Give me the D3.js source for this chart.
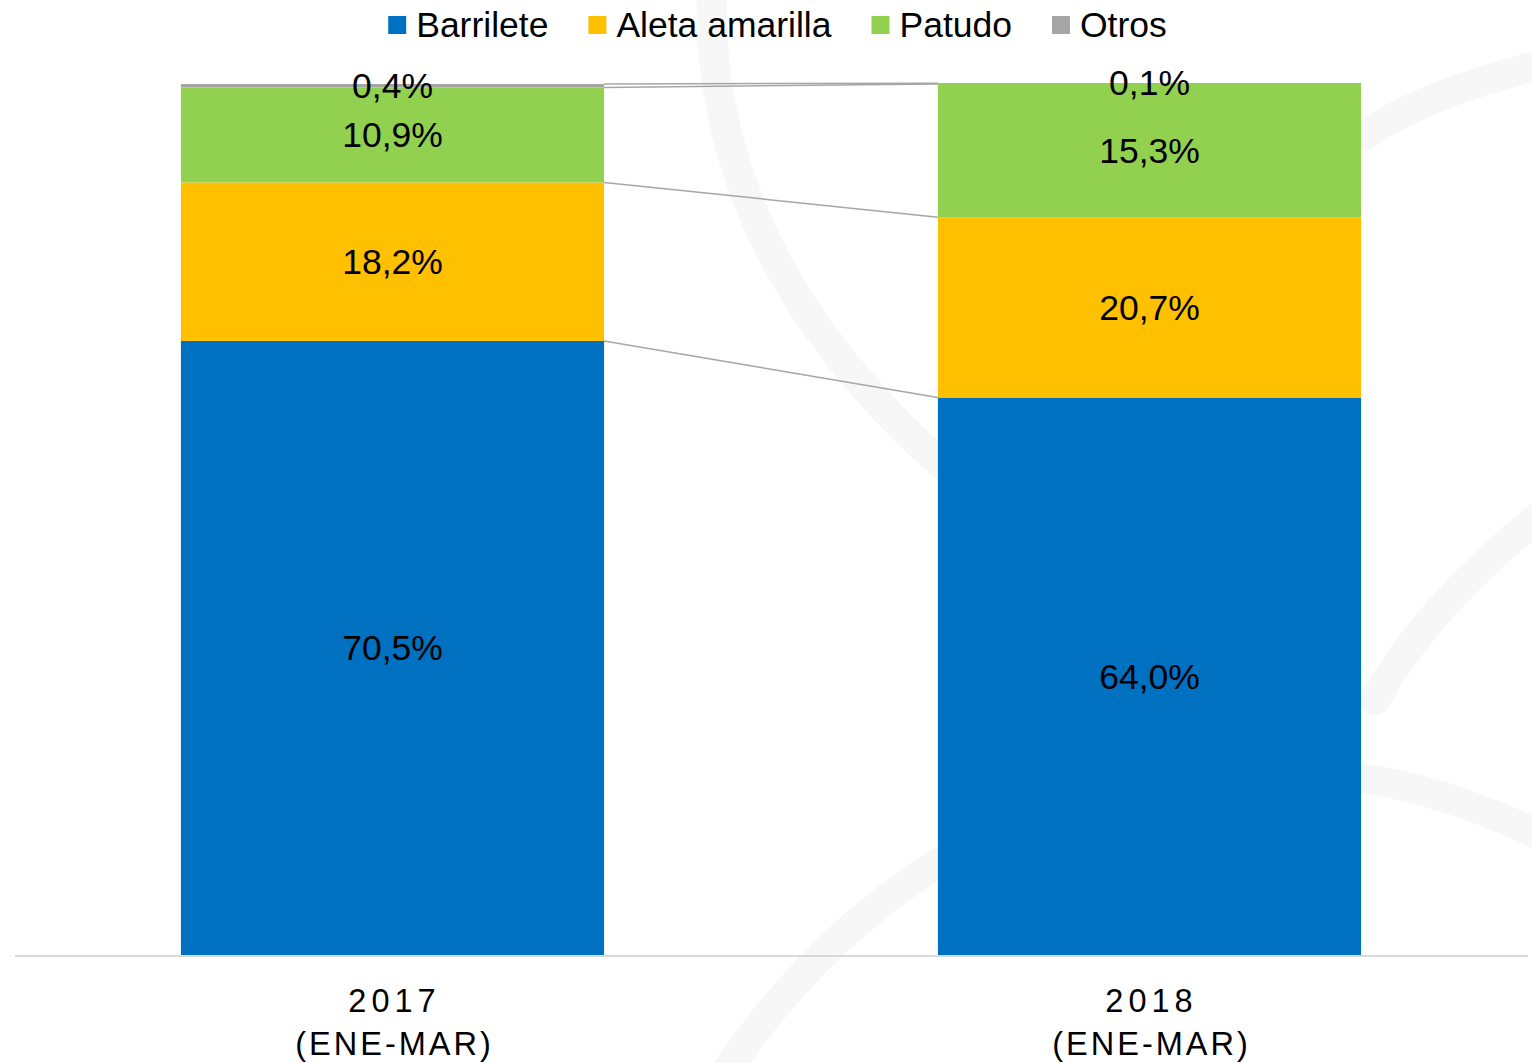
<!DOCTYPE html>
<html>
<head>
<meta charset="utf-8">
<script src="https://cdn.jsdelivr.net/npm/d3@7"></script>
<style>
  html, body { margin: 0; padding: 0; background: #fff; }
  svg { display: block; }
</style>
</head>
<body>
<svg id="chart" width="1532" height="1063"></svg>
<script>
// ---- data ----
const categories = ["2017", "2018"];
const categorySub = ["(ENE-MAR)", "(ENE-MAR)"];
const seriesNames = ["Barrilete", "Aleta amarilla", "Patudo", "Otros"];
const barrilete = [70.5, 64.0];
const aletaAmarilla = [18.2, 20.7];
const patudo = [10.9, 15.3];
const otros = [0.4, 0.1];
const seriesColors = ["#0070C0", "#FFC000", "#92D050", "#A5A5A5"];

const W = 1532, H = 1063;
const svg = d3.select("#chart");
const FONT = "'Liberation Sans', Arial, sans-serif";

// ---- watermark (faint background logo arcs) ----
const wm = svg.append("g").attr("fill", "none").attr("stroke", "#f7f7f7")
  .attr("stroke-width", 30).attr("stroke-linecap", "round");
wm.append("path").attr("d", "M 712 -20 Q 700 260 960 480");
wm.append("path").attr("d", "M 1365 135 Q 1430 90 1560 60");
wm.append("path").attr("d", "M 1375 700 Q 1430 600 1560 500");
wm.append("path").attr("d", "M 1360 778 Q 1450 790 1560 845");
wm.append("path").attr("d", "M 720 1080 Q 820 930 960 850");

// ---- table ----
const table = categories.map((c, i) => ({
  cat: c,
  "Barrilete": barrilete[i],
  "Aleta amarilla": aletaAmarilla[i],
  "Patudo": patudo[i],
  "Otros": otros[i]
}));
const stacked = d3.stack().keys(seriesNames)(table);

// ---- scales ----
const x = d3.scaleBand().domain(categories).range([14, 1528])
  .paddingInner(0.441).paddingOuter(0.2205);
const y = d3.scaleLinear().domain([0, 100]).range([955, 84]);
const color = d3.scaleOrdinal().domain(seriesNames).range(seriesColors);

// ---- connector (series) lines ----
const conn = svg.append("g").attr("stroke", "#A6A6A6").attr("stroke-width", 1.5).attr("fill", "none");
stacked.forEach(s => {
  conn.append("line")
    .attr("x1", x(categories[0]) + x.bandwidth())
    .attr("y1", y(s[0][1]))
    .attr("x2", x(categories[1]))
    .attr("y2", y(s[1][1]));
});

// ---- bars ----
const layers = svg.append("g").selectAll("g").data(stacked).join("g")
  .attr("fill", d => color(d.key));
layers.selectAll("rect").data(d => d).join("rect")
  .attr("x", d => x(d.data.cat))
  .attr("y", d => y(d[1]))
  .attr("width", x.bandwidth())
  .attr("height", d => y(d[0]) - y(d[1]));

// ---- data labels ----
const fmt = v => v.toFixed(1).replace(".", ",") + "%";
const labels = svg.append("g").attr("font-family", FONT).attr("font-size", 35.5)
  .attr("fill", "#000").attr("text-anchor", "middle");
stacked.forEach(s => {
  s.forEach(d => {
    const v = d[1] - d[0];
    let cy = (y(d[0]) + y(d[1])) / 2;
    if (s.key === "Otros") cy = y(d[0]) - 1.5;
    labels.append("text")
      .attr("x", x(d.data.cat) + x.bandwidth() / 2)
      .attr("y", cy)
      .attr("dy", "0.35em")
      .text(fmt(+v.toFixed(1)));
  });
});

// ---- x axis ----
const axis = svg.append("g").attr("transform", "translate(0,956)");
axis.call(d3.axisBottom(x).tickSize(0).tickFormat(() => ""));
axis.select(".domain").attr("stroke", "#D9D9D9").attr("stroke-width", 2)
  .attr("d", "M15,0H1528");
axis.selectAll(".tick").each(function(c, i) {
  const t = d3.select(this);
  t.select("text").remove();
  const tx = t.append("text").attr("font-family", FONT).attr("font-size", 32.5)
    .attr("fill", "#000").attr("text-anchor", "middle");
  tx.append("tspan").attr("x", 2).attr("y", 56).attr("letter-spacing", "5px").text(c);
  tx.append("tspan").attr("x", 2).attr("y", 99).attr("letter-spacing", "3px").text(categorySub[i]);
});

// ---- legend ----
const legend = svg.append("g").attr("font-family", FONT).attr("font-size", 35.5);
let lx = 0;
seriesNames.forEach((n, i) => {
  const g = legend.append("g");
  g.append("rect").attr("x", 0).attr("y", -9).attr("width", 18).attr("height", 18)
    .attr("fill", seriesColors[i]);
  const t = g.append("text").attr("x", 28).attr("y", 0).attr("dy", "0.35em")
    .attr("fill", "#000").text(n);
  const w = 28 + t.node().getComputedTextLength();
  g.attr("transform", `translate(${lx},25)`);
  lx += w + 40;
});
const totalW = lx - 40;
legend.attr("transform", `translate(${777.5 - totalW / 2},0)`);
</script>
</body>
</html>
